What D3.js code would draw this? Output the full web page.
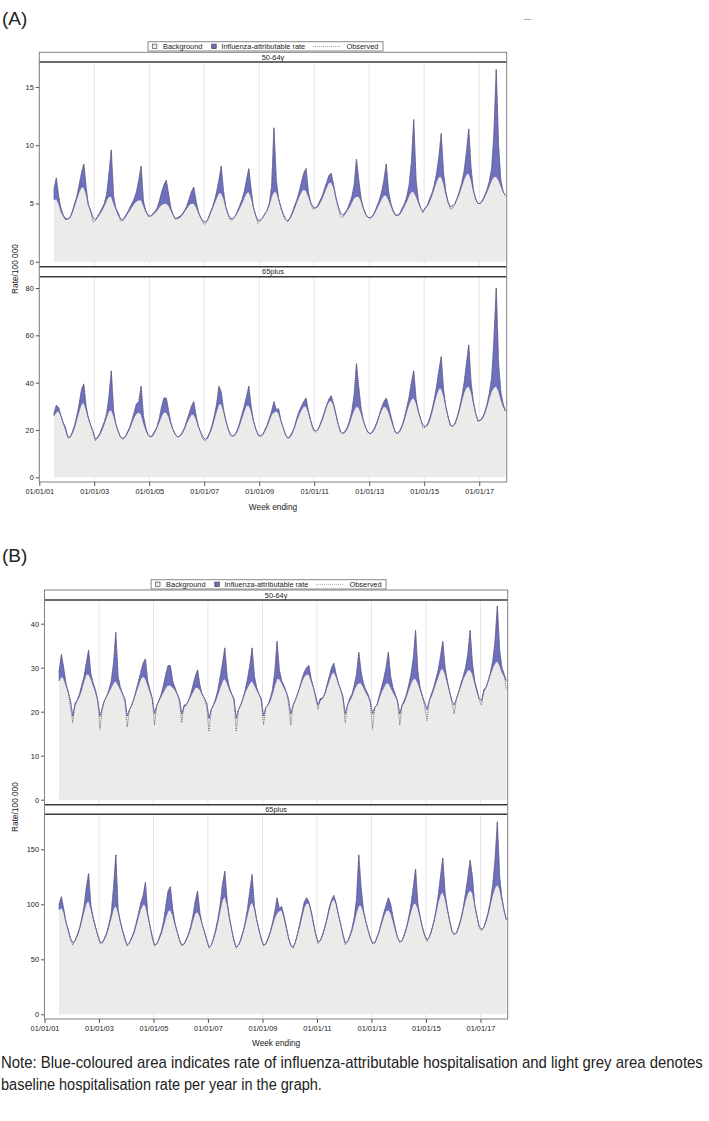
<!DOCTYPE html>
<html><head><meta charset="utf-8">
<script src="https://cdn.jsdelivr.net/npm/d3@7"></script>
<style>
body{margin:0;background:#fff}
svg{display:block}
text{font-family:"Liberation Sans",Arial,sans-serif;fill:#222}
</style></head>
<body><svg id="chart" width="709" height="1121"></svg>
<script>
// ---------------- DATA (monthly, Jul 2001 .. Dec 2017) ----------------
const startYear = 2001, startMonth = 6; // July 2001
const tickYears = [2001, 2003, 2005, 2007, 2009, 2011, 2013, 2015, 2017];
const ticksA1 = [0, 5, 10, 15];
const ticksA2 = [0, 20, 40, 60, 80];
const ticksB1 = [0, 10, 20, 30, 40];
const ticksB2 = [0, 50, 100, 150];
const legendLabels = ["Background", "Influenza-attributable rate", "Observed"];
const panelLabels = ["50-64y", "65plus"];

// (A) 50-64y
const baseA1 = [
 5.3,5.4,5.0,4.3,3.9,3.6,
 3.7,3.8,4.2,4.8,5.4,6.0,6.4,6.4,5.8,4.9,4.3,3.8,
 3.6,3.8,4.1,4.4,4.8,5.3,5.6,5.6,5.0,4.5,4.0,3.7,
 3.6,3.8,4.1,4.4,4.7,5.0,5.2,5.3,5.3,4.8,4.3,4.0,
 3.9,4.0,4.2,4.4,4.7,4.9,5.0,5.0,4.8,4.4,4.0,3.7,
 3.7,3.8,4.0,4.3,4.6,4.9,5.0,5.0,4.7,4.2,3.8,3.5,
 3.4,3.6,4.0,4.5,5.0,5.5,5.9,5.9,5.4,4.7,4.1,3.7,
 3.7,3.9,4.2,4.6,5.0,5.5,5.9,6.0,5.5,4.7,4.0,3.5,
 3.6,3.8,4.1,4.4,4.9,5.6,6.0,6.0,5.4,4.7,4.1,3.7,
 3.5,3.7,4.1,4.6,5.1,5.6,6.0,6.2,6.1,5.6,5.1,4.7,
 4.6,4.7,5.0,5.4,5.9,6.4,6.8,6.8,6.4,5.6,4.8,4.2,
 4.0,4.1,4.4,4.7,5.1,5.5,5.6,5.6,5.2,4.6,4.1,3.8,
 3.8,3.9,4.2,4.6,5.0,5.4,5.7,5.7,5.3,4.8,4.3,4.0,
 4.0,4.1,4.4,4.8,5.2,5.7,6.0,6.0,5.6,5.1,4.6,4.3,
 4.6,4.8,5.2,5.7,6.3,6.9,7.3,7.3,6.7,5.8,5.1,4.7,
 4.8,5.0,5.4,5.9,6.5,7.1,7.5,7.6,7.0,6.1,5.4,5.0,
 5.0,5.2,5.6,6.0,6.5,7.0,7.3,7.3,7.0,6.5,6.0,5.7];
const obsA1 = [
 6.2,7.2,5.6,4.6,4.0,3.7,
 3.6,3.8,4.3,5.0,5.6,6.6,7.6,8.4,6.4,4.8,4.4,3.4,
 3.5,3.9,4.2,4.6,5.0,5.8,7.5,9.6,5.6,4.6,4.2,3.5,
 3.5,3.9,4.2,4.6,5.0,5.4,6.0,7.0,8.2,5.2,4.4,3.9,
 3.9,4.1,4.3,4.6,5.2,6.0,6.6,7.0,5.8,4.6,4.0,3.6,
 3.8,3.9,4.1,4.4,4.8,5.4,6.0,6.4,5.2,4.3,3.8,3.3,
 3.2,3.6,4.1,4.6,5.2,6.0,7.0,8.2,6.0,4.6,4.0,3.6,
 3.6,3.9,4.3,4.8,5.3,6.0,7.0,8.0,6.2,4.6,3.9,3.3,
 3.5,3.7,4.1,4.4,5.0,6.5,11.5,7.0,5.4,4.6,4.0,3.6,
 3.4,3.8,4.2,4.8,5.3,6.0,6.8,7.6,8.0,6.0,5.0,4.5,
 4.6,4.8,5.2,5.6,6.2,6.8,7.4,7.6,6.6,5.4,4.6,3.9,
 3.8,4.2,4.5,5.0,5.6,6.6,8.8,7.0,5.4,4.6,4.0,3.8,
 3.7,3.9,4.3,4.8,5.3,6.0,7.0,8.4,6.0,5.0,4.4,4.0,
 3.9,4.2,4.6,5.0,5.6,6.6,8.5,12.2,7.0,5.3,4.6,4.2,
 4.6,4.9,5.4,5.9,6.6,7.6,9.0,11.0,7.6,6.0,5.1,4.5,
 4.6,5.0,5.5,6.1,6.8,7.8,9.4,11.4,8.0,6.2,5.3,5.0,
 5.0,5.3,5.7,6.2,6.9,8.0,11.0,16.5,10.0,7.0,6.0,5.6];

// (A) 65plus
const baseA2 = [
 26,27.5,28,26,23,20,
 17,17,18.5,21,24.5,28,31,31.5,28.5,25,22,19.5,
 16,16.5,18,20,22.5,25.5,28,28.5,26,22.5,19.5,17,
 16.5,17,18.5,20.5,23,25.5,27,27.5,26.5,23,20,18,
 17,17.5,19,21,23.5,26,27.5,27.5,25.5,22.5,20,18,
 17,17.5,18.5,20.5,23,25,26.5,26.5,24.5,21.5,19,17,
 16,16.5,18.5,21,24.5,28,31,31,28,24,20.5,18,
 17.5,18,19.5,22,25,28,30.5,30.5,28,24,20.5,18,
 17.5,18,19.5,21.5,24,26.5,27.5,28,27,24,21,18,
 16.5,17,18.5,21,24,26.5,28.5,30,30,27.5,24,21,
 19.5,20,21.5,24,27,30,32,32.5,30.5,26.5,22.5,19.5,
 18.5,19,20.5,23,26,28.5,30,29.5,27,24,21,19,
 18.5,19,20.5,23,26,28.5,30,29.5,27.5,24.5,21.5,19,
 18.5,19.5,21.5,24.5,28,31,33,33.5,31.5,28,24.5,22,
 21.5,22,24,27.5,31.5,35,37.5,37.5,34.5,30,25.5,22,
 21.5,22.5,25,28.5,32.5,36,38,38.5,36,31.5,27,24,
 24,25,27,30,33.5,36.5,38,38.5,36.5,33,30,28];
const obsA2 = [
 27,30.5,29.5,26,23,21,
 16.5,17,19,22,26,31,37,39.5,30,25,22,19,
 15.5,17,18.5,21,23.5,27,34,45,28,22.5,19.5,17,
 16,17,19,21,24,27.5,31,32,38.5,26,21,18,
 17,18,19.5,21.5,25,30,33.5,33.5,28,23,20,18,
 17,17.5,19,21,24,27,30,32,26,21.5,19,16,
 15.5,17,19,22,26,31,38.5,36,28.5,24,20.5,18,
 17,18,20,23,26.5,30,34,38.5,30,24,20.5,18,
 17,18,20,22,25,28,32,28.5,29,24,21,18,
 16.5,17.5,19,21.5,25,28,30,32,33.5,28,24,20,
 19,20,22,24.5,27.5,30.5,33,34.5,31,27,22.5,19,
 18.5,19.5,21,24,28,35,48,38,29,24,21,19,
 18.3,19.5,21,23.5,26.5,29.5,32,33.5,30,26,22,19,
 18.5,20,22,25.5,29.5,34,40,45,33,28,24.5,21,
 21,22.5,25,28.5,33,38.5,45,51,37,30,25.5,22,
 21.5,23,25.5,29.5,34,40,48,56,40,32,27,23.5,
 24,25.5,27.5,31,35.5,42,58,80,48,36,31,28];

// (B) 50-64y
const baseB1 = [
 27,28,27.5,26,24.5,22.5,
 19,21.5,22.5,23.5,25,27,28.5,28.5,27.5,26,24.5,22.5,
 19,21,22.5,23.5,24.5,25.5,26.5,27,26,25,24,23,
 19,20.5,21.5,23,24.5,26,27.5,28,27.5,26,24.5,23,
 19.5,21.5,22.5,23.5,24.5,25.5,26,26,25.5,25,24,23,
 19.5,21,21.5,22.5,23.5,24.5,25.5,25.5,25,24,23,22,
 18.5,20.5,21.5,22.5,24,25.5,27,27.5,26.5,25,24,23,
 18.5,20.5,21.5,23,24.5,25.5,26.5,27,26,25,24,23,
 19,21,21.5,22.5,24,26,27.5,27.5,26.5,25.5,24.5,23,
 19.5,21.5,22.5,24,25.5,27,28,28.5,28.5,27,25.5,23.5,
 21.5,22.5,23,24,25.5,27,28.5,29,28,26.5,25,23.5,
 19.5,21.5,22.5,23.5,25,26,26.5,26.5,25.5,24.5,23.5,22.5,
 19.5,21,21.5,23,24.5,25.5,26.5,26.5,25.5,24.5,23.5,22.5,
 19.5,21.5,22,23.5,25,26.5,27.5,27.5,26.5,25,23.5,22,
 20.5,22.5,23.5,25,26.5,28,29.5,29.8,28.5,26.5,24.5,22.5,
 21.5,23,24.5,26,27.5,28.5,29.5,29.5,28.5,26.5,24.5,23,
 22.5,24.5,25.5,27,28.5,30,31,31.5,30.5,29,28,27];
const obsB1 = [
 29,33,30,26.5,24.5,21,
 17.5,22,22.5,24,26,28,31,34,28.5,26.5,25,22.5,
 16,20.5,22.5,23.5,25,27,31,38,28,25.5,24,22,
 16.5,20.5,21.5,23,25,27,29,31,32,27,25,23,
 17,21.5,22.5,24,26,28.5,30.5,30.5,27,25.5,24,22,
 17.5,21.5,21.5,22.5,24,26,28,29.5,26,24,23,21,
 15.5,20.5,21.5,23,25,28,31,34.5,28,25.5,24,22.5,
 15.5,20.5,21.5,23,25,27.5,30.5,34.5,28,25.5,24,22.5,
 17,21,21.5,23,25,29,36,29.5,27,26,24.5,22,
 17,21.5,22.5,24,25.5,27.5,29,30,30.5,27.5,25.5,23,
 20.5,23,23,24,26,28,30,31,28.5,26.5,25,23,
 17.5,21.5,23,24,26,28.5,33.5,29,26.5,25,24,22,
 16,21,21.5,23.5,25.5,27.5,30,33.5,28,25.5,24,22.5,
 17,21.5,22.5,24,26,28.5,32,38.5,29,25.5,23.5,21,
 18,22.5,24,25.5,27.5,29.5,32.5,36,30,27,24.5,22,
 19.5,23,24.5,26.5,28,30,33,38.5,31,27,25,22.5,
 21.5,25,25.5,27,29,31.5,36,44,34,30,28.5,25];

// (B) 65plus
const baseB2 = [
 95,97,93,84,76,69,
 65,67,71,77,85,94,101,103,96,87,79,72,
 66,65,68,73,80,88,96,99,93,84,76,69,
 63,65,69,74,81,89,96,100,99,90,80,71,
 63,64,68,73,80,88,94,95,90,82,75,68,
 63,64,67,72,78,86,92,93,89,82,75,68,
 61,63,68,75,84,95,104,107,100,88,77,68,
 61,63,67,74,82,91,99,102,96,86,77,69,
 63,64,68,74,81,88,92,94,95,88,79,70,
 63,61,65,72,80,89,97,101,101,93,83,73,
 66,67,71,78,86,95,102,105,100,91,82,73,
 65,66,70,76,84,93,99,99,93,85,77,70,
 65,65,69,75,82,89,94,95,92,85,77,70,
 66,67,71,78,86,94,100,101,96,88,79,72,
 68,70,75,83,92,102,109,111,105,95,85,76,
 73,74,79,86,95,104,110,113,110,100,89,80,
 77,79,84,91,100,109,115,118,114,104,94,86];
const obsB2 = [
 100,107,96,84,77,68,
 63,67,72,78,87,98,115,128,99,88,80,72,
 64,65,69,74,82,92,115,145,95,84,75,67,
 62,65,70,75,83,92,101,108,120,92,80,69,
 62,64,69,75,84,98,112,116,96,83,75,67,
 62,64,68,73,80,90,103,112,92,82,75,67,
 60,63,69,77,87,100,118,130,103,88,77,66,
 60,63,68,75,84,96,112,127,98,86,77,68,
 62,64,69,75,83,93,106,96,98,90,80,70,
 62,60,65,73,82,92,102,106,102,94,83,72,
 64,67,72,79,87,97,104,108,101,91,82,72,
 63,66,71,78,88,105,145,115,95,85,77,69,
 64,65,70,76,84,92,99,106,100,89,79,70,
 65,67,72,79,88,100,115,132,100,89,79,71,
 66,70,76,84,94,108,125,142,110,96,85,75,
 72,74,80,87,97,110,124,140,125,100,89,79,
 76,79,85,93,103,118,140,175,125,106,94,85];

// ---------------- DRAWING ----------------
const svg = d3.select("#chart");
const months = d3.range(baseA1.length).map(i => new Date(startYear, startMonth + i, 15));
const tickDates = tickYears.map(y => new Date(y, 0, 1));
const fmt = d3.timeFormat("%d/%m/%y");

const COL = {grey:"#ecebe9", blue:"#6f6fbf", blueEdge:"#5b5bb0", obs:"#5a5a5a", frame:"#808080", strip:"#3a3a3a", grid:"#e6e6e6"};

const figs = [
 {tag:"(A)", tagY:25, left:39.3, right:506.7, legendTop:41.7, axisY:482, titleY:509.5, yTitleY:269,
  panels:[
   {label:panelLabels[0], top:52.3, stripH:9.7, bottom:266.7, y0px:261.7, refPx:87, refVal:15, ticks:ticksA1, base:baseA1, obs:obsA1},
   {label:panelLabels[1], top:266.7, stripH:10, bottom:482, y0px:477.3, refPx:288, refVal:80, ticks:ticksA2, base:baseA2, obs:obsA2}]},
 {tag:"(B)", tagY:562, left:44.5, right:507.7, legendTop:579.7, axisY:1019, titleY:1046, yTitleY:807,
  panels:[
   {label:panelLabels[0], top:590, stripH:10, bottom:804.7, y0px:799.7, refPx:623.7, refVal:40, ticks:ticksB1, base:baseB1, obs:obsB1},
   {label:panelLabels[1], top:804.7, stripH:9.6, bottom:1019, y0px:1014.3, refPx:849.3, refVal:150, ticks:ticksB2, base:baseB2, obs:obsB2}]}
];

figs.forEach(f => {
  const g = svg.append("g");
  const x = d3.scaleTime().domain([new Date(2001,0,1), new Date(2018,0,1)]).range([f.left, f.right]);
  const cx = (f.left + f.right) / 2;

  g.append("text").attr("x", 2).attr("y", f.tagY).attr("font-size", 19).text(f.tag);

  f.panels.forEach((p, pi) => {
    const y = d3.scaleLinear().domain([0, p.refVal]).range([p.y0px, p.refPx]);
    const plotTop = p.top + p.stripH;
    const pg = g.append("g");
    pg.selectAll(".grid").data(tickDates).join("line")
      .attr("x1", d => x(d)).attr("x2", d => x(d))
      .attr("y1", plotTop).attr("y2", p.bottom)
      .attr("stroke", COL.grid).attr("stroke-width", 1);
    const rows = months.map((d, i) => ({d, b: p.base[i], o: p.obs[i]}));
    pg.append("path").datum(rows)
      .attr("d", d3.area().x(r => x(r.d)).y0(y(0)).y1(r => y(r.b)))
      .attr("fill", COL.grey);
    pg.append("path").datum(rows)
      .attr("d", d3.area().x(r => x(r.d)).y0(r => y(r.b)).y1(r => y(Math.max(r.b, r.o))))
      .attr("fill", COL.blue).attr("stroke", COL.blueEdge).attr("stroke-width", 0.6);
    pg.append("path").datum(rows)
      .attr("d", d3.line().x(r => x(r.d)).y(r => y(r.o)))
      .attr("fill", "none").attr("stroke", COL.obs).attr("stroke-width", 0.9)
      .attr("stroke-dasharray", "1,1.1");
    pg.append("rect").attr("x", f.left).attr("y", p.top).attr("width", f.right - f.left).attr("height", p.stripH)
      .attr("fill", "#fff");
    if (pi > 0) pg.append("line").attr("x1", f.left).attr("x2", f.right).attr("y1", p.top).attr("y2", p.top)
      .attr("stroke", COL.strip).attr("stroke-width", 1.6);
    pg.append("line").attr("x1", f.left).attr("x2", f.right).attr("y1", plotTop).attr("y2", plotTop)
      .attr("stroke", COL.strip).attr("stroke-width", 1.6);
    pg.append("text").attr("x", cx).attr("y", p.top + p.stripH / 2 + 2.6).attr("text-anchor", "middle")
      .attr("font-size", 7.4).text(p.label);
    const ya = pg.append("g").attr("transform", `translate(${f.left},0)`)
      .call(d3.axisLeft(y).tickValues(p.ticks).tickSize(3.5).tickPadding(2));
    ya.select(".domain").remove();
    ya.selectAll("line").attr("stroke", "#555");
    ya.selectAll("text").attr("font-size", 7.4).attr("font-family", "Liberation Sans, Arial, sans-serif").attr("fill", "#333");
  });

  const top = f.panels[0].top;
  g.append("rect").attr("x", f.left).attr("y", top).attr("width", f.right - f.left).attr("height", f.axisY - top)
    .attr("fill", "none").attr("stroke", COL.frame).attr("stroke-width", 1);

  const xa = g.append("g").attr("transform", `translate(0,${f.axisY})`)
    .call(d3.axisBottom(x).tickValues(tickDates).tickFormat(fmt).tickSize(4).tickPadding(3));
  xa.select(".domain").remove();
  xa.selectAll("line").attr("stroke", "#555");
  xa.selectAll("text").attr("font-size", 7.4).attr("font-family", "Liberation Sans, Arial, sans-serif").attr("fill", "#333");

  g.append("text").attr("x", cx).attr("y", f.titleY).attr("text-anchor", "middle").attr("font-size", 8.3).text("Week ending");
  g.append("text").attr("transform", `translate(17.5,${f.yTitleY}) rotate(-90)`).attr("text-anchor", "middle")
    .attr("font-size", 8.3).text("Rate/100 000");

  const lw = 235, lx = cx - 7.5 - lw / 2, ly = f.legendTop, lh = 9.3;
  const lg = g.append("g");
  lg.append("rect").attr("x", lx).attr("y", ly).attr("width", lw).attr("height", lh)
    .attr("fill", "#fff").attr("stroke", "#888").attr("stroke-width", 1);
  lg.append("rect").attr("x", lx + 4.4).attr("y", ly + 2.4).attr("width", 4.5).attr("height", 4.5)
    .attr("fill", COL.grey).attr("stroke", "#555").attr("stroke-width", 0.7);
  lg.append("text").attr("x", lx + 15).attr("y", ly + 7.3).attr("font-size", 7.4).text(legendLabels[0]);
  lg.append("rect").attr("x", lx + 63.7).attr("y", ly + 2.4).attr("width", 4.5).attr("height", 4.5)
    .attr("fill", COL.blue).attr("stroke", "#444").attr("stroke-width", 0.7);
  lg.append("text").attr("x", lx + 73.4).attr("y", ly + 7.3).attr("font-size", 7.4).text(legendLabels[1]);
  lg.append("line").attr("x1", lx + 165).attr("x2", lx + 193).attr("y1", ly + 4.7).attr("y2", ly + 4.7)
    .attr("stroke", "#888").attr("stroke-width", 0.8).attr("stroke-dasharray", "1,1");
  lg.append("text").attr("x", lx + 198.4).attr("y", ly + 7.3).attr("font-size", 7.4).text(legendLabels[2]);
});

svg.append("line").attr("x1", 524).attr("x2", 531).attr("y1", 19.5).attr("y2", 19.5).attr("stroke", "#aaa").attr("stroke-width", 1);

// note lines: natural text horizontally scaled to the measured width of the reference
const noteLines = [
  {t:"Note:  Blue-coloured area indicates rate of influenza-attributable hospitalisation and light grey area denotes", y:1068, w:702},
  {t:"baseline hospitalisation rate per year in the graph.", y:1090, w:321}
];
noteLines.forEach(n => {
  const t = svg.append("text").attr("x", 0).attr("y", 0).attr("font-size", 16)
    .attr("font-family", "Lato, 'Open Sans', sans-serif").text(n.t);
  const nat = t.node().getComputedTextLength();
  const s = n.w / nat;
  t.attr("transform", `translate(1,${n.y}) scale(${s},1)`);
});
</script>
</body></html>
